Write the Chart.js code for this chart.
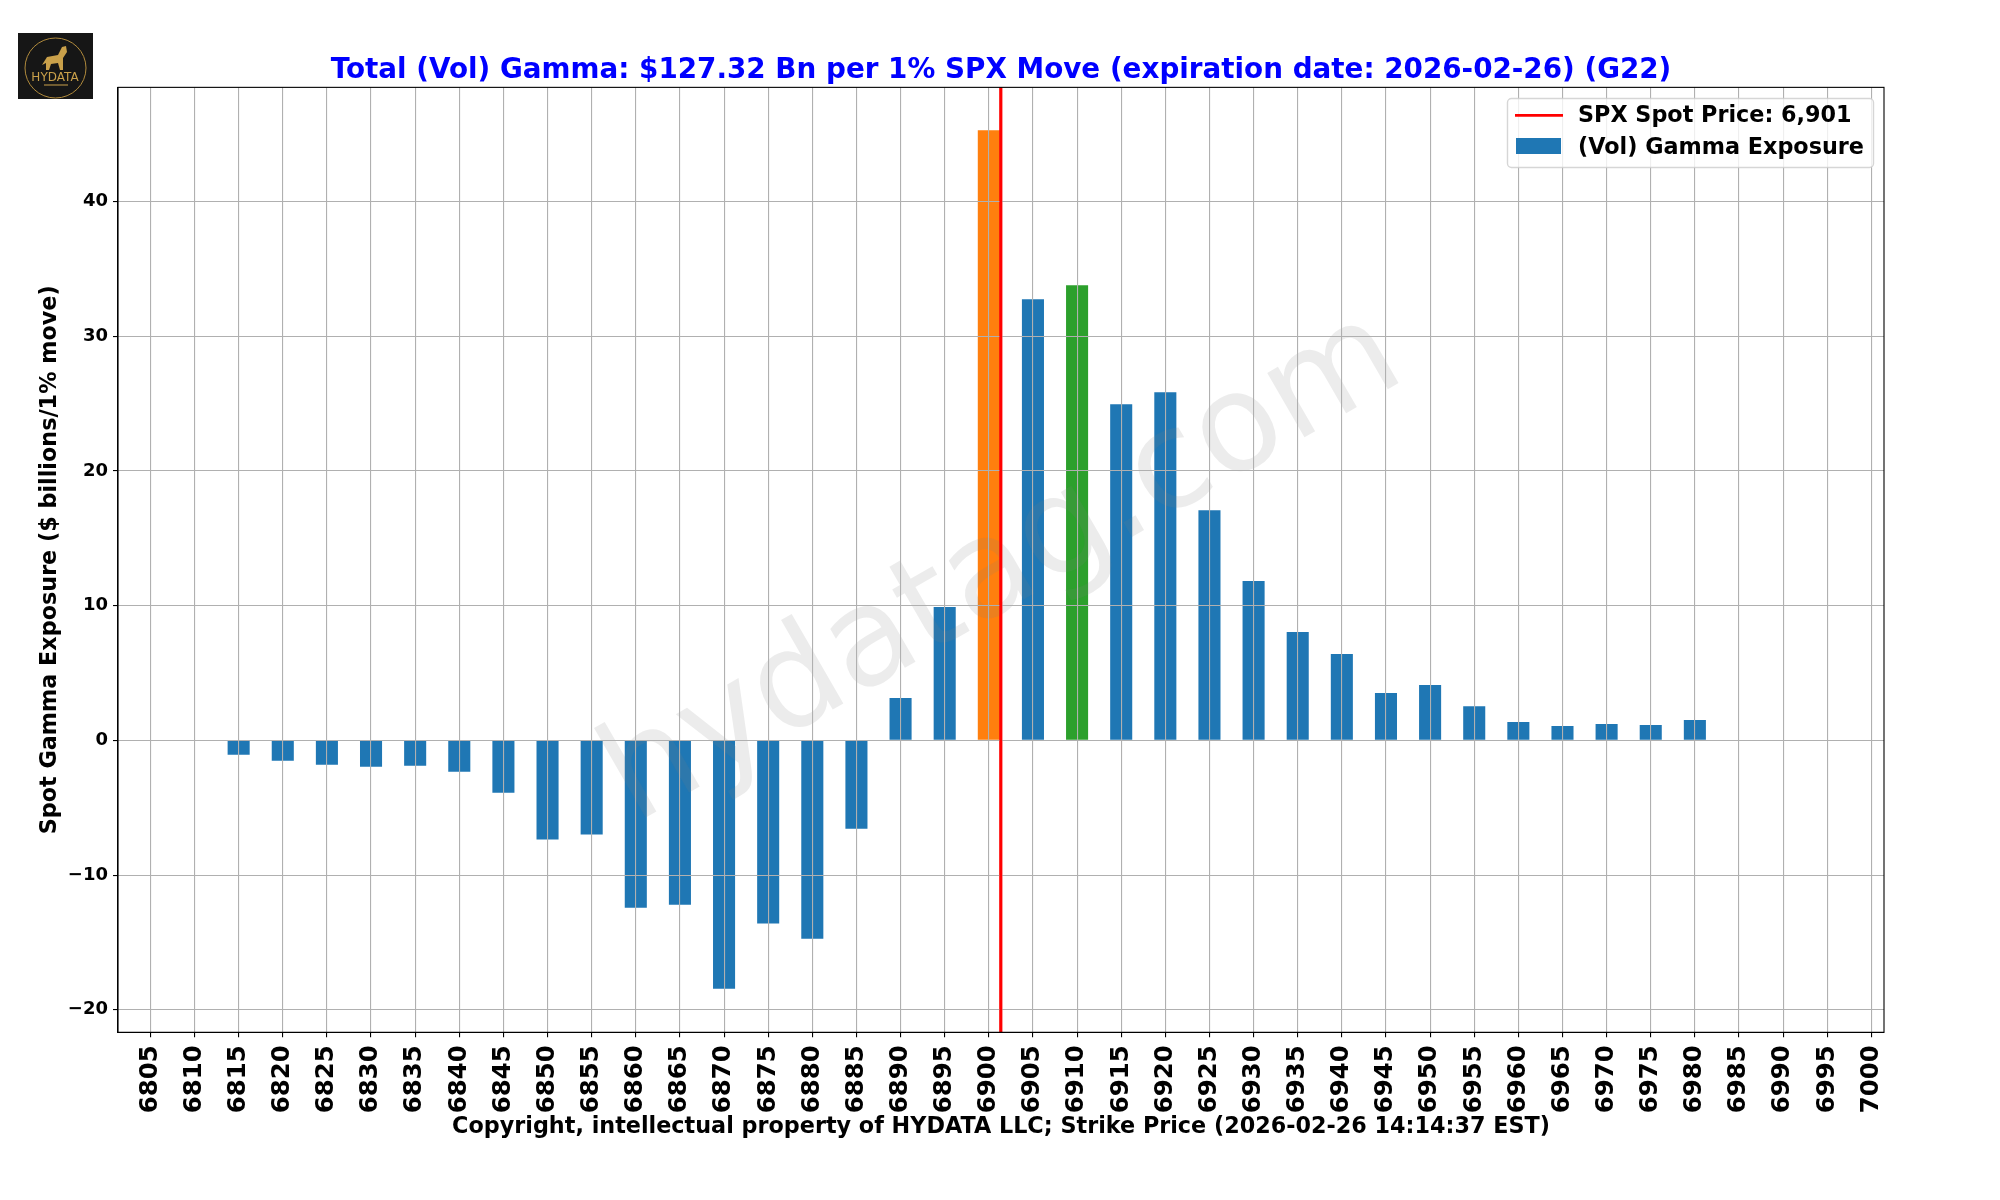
<!DOCTYPE html>
<html>
<head>
<meta charset="utf-8">
<title>Total (Vol) Gamma</title>
<script src="https://cdn.jsdelivr.net/npm/chart.js@4/dist/chart.umd.min.js"></script>
<style>
body { margin: 0; background: #fff; }
canvas { display: block; }
</style>
</head>
<body>
<canvas id="gamma" width="2000" height="1200"></canvas>
<script>
const strikes = [6805,6810,6815,6820,6825,6830,6835,6840,6845,6850,6855,6860,6865,6870,6875,6880,6885,6890,6895,6900,
                 6905,6910,6915,6920,6925,6930,6935,6940,6945,6950,6955,6960,6965,6970,6975,6980,6985,6990,6995,7000];
const gammaValues = [null,null,-1.06,-1.51,-1.81,-1.95,-1.88,-2.32,-3.88,-7.35,-6.98,-12.42,-12.20,-18.43,-13.60,-14.72,-6.56,3.14,9.90,45.29,
                     32.75,33.79,24.96,25.85,17.09,11.83,8.04,6.41,3.51,4.11,2.54,1.36,1.06,1.21,1.14,1.51,null,null,null,null];
const yTicks = [-20,-10,0,10,20,30,40];
const spotPrice = 6901.36;
const spotLabel = 'SPX Spot Price: 6,901';
const gammaLabel = '(Vol) Gamma Exposure';
const orangeStrike = 6900;
const greenStrike = 6910;
const xRange = [6801.33, 7001.43];
const yRange = [-21.67, 48.48];

const fontName = "'DejaVu Sans'";
Chart.defaults.font.family = fontName;
Chart.defaults.color = '#000';

function barColor(strike) {
    if (strike === orangeStrike) return '#ff7f0e';
    if (strike === greenStrike) return '#2ca02c';
    return '#1f77b4';
}

// watermark sits over the bars but under the grid
const watermark = {
    id: 'watermark',
    afterDatasetsDraw(chart) {
        const c = chart.ctx;
        c.save();
        c.translate(1004, 570);
        c.rotate(-30 * Math.PI / 180);
        c.font = '136px ' + fontName;
        c.fillStyle = 'rgba(128,128,128,0.15)';
        c.textAlign = 'center';
        c.textBaseline = 'middle';
        c.fillText('hydatag.com', 0, 0);
        c.restore();
    }
};

function drawLogo(c) {
    c.save();
    c.fillStyle = '#161616';
    c.fillRect(18, 33, 75, 66);
    c.strokeStyle = '#b08a3c';
    c.lineWidth = 1;
    c.beginPath();
    c.rect(18, 33, 75, 66);
    c.clip();
    c.beginPath();
    c.ellipse(55.5, 68, 30.5, 30, 0, 0, Math.PI * 2);
    c.stroke();
    c.fillStyle = '#c9a04a';
    c.beginPath();
    c.moveTo(42, 65); c.lineTo(47, 57); c.lineTo(58, 55); c.lineTo(62, 47); c.lineTo(66, 46);
    c.lineTo(67, 52); c.lineTo(63, 58); c.lineTo(63, 70); c.lineTo(60, 70); c.lineTo(58, 63);
    c.lineTo(51, 64); c.lineTo(49, 70); c.lineTo(46, 70); c.lineTo(46, 63);
    c.closePath();
    c.fill();
    c.font = '12px ' + fontName;
    c.textAlign = 'center';
    c.textBaseline = 'middle';
    c.fillText('HYDATA', 55, 78);
    c.fillStyle = 'rgba(201,160,74,0.5)';
    c.fillRect(44, 84, 24, 2);
    c.restore();
}

const chrome = {
    id: 'chrome',
    // title is centred on the whole figure, not on the padded box
    afterLayout(chart) {
        chart.titleBlock.left = 0;
        chart.titleBlock.right = chart.width + 2;
    },
    afterDraw(chart) {
        const c = chart.ctx;
        const a = chart.chartArea;

        // red line goes back over the grid
        chart.getDatasetMeta(0).controller.draw();

        c.save();
        c.strokeStyle = '#000';
        c.lineWidth = 1.1;
        c.strokeRect(a.left, a.top, a.right - a.left, a.bottom - a.top);

        // legend
        c.fillStyle = 'rgba(255,255,255,0.8)';
        c.strokeStyle = 'rgba(204,204,204,0.8)';
        c.lineWidth = 1.4;
        c.beginPath();
        c.roundRect(1507.5, 98.5, 366, 69, 4);
        c.fill();
        c.stroke();
        c.strokeStyle = '#ff0000';
        c.lineWidth = 2.8;
        c.beginPath();
        c.moveTo(1515, 115.3);
        c.lineTo(1563, 115.3);
        c.stroke();
        c.fillStyle = '#1f77b4';
        c.fillRect(1516, 138, 45, 16);
        c.fillStyle = '#000';
        c.font = 'bold 22.3px ' + fontName;
        c.textBaseline = 'middle';
        c.fillText(chart.data.datasets[0].label, 1578, 116.5);
        c.fillText(chart.data.datasets[1].label, 1578, 148.5);
        c.restore();

        drawLogo(c);
    }
};

new Chart(document.getElementById('gamma').getContext('2d'), {
    type: 'bar',
    data: {
        datasets: [
            {
                type: 'line',
                label: spotLabel,
                data: [{x: spotPrice, y: yRange[0]}, {x: spotPrice, y: yRange[1]}],
                borderColor: '#ff0000',
                borderWidth: 2.8,
                pointRadius: 0,
                order: 0
            },
            {
                label: gammaLabel,
                data: strikes.map((s, i) => ({x: s, y: gammaValues[i]})),
                backgroundColor: strikes.map(barColor),
                barPercentage: 0.5,
                categoryPercentage: 1,
                order: 1
            }
        ]
    },
    options: {
        responsive: false,
        devicePixelRatio: 1,
        animation: false,
        layout: { padding: { right: 116 } },
        plugins: {
            legend: { display: false },
            tooltip: { enabled: false },
            title: {
                display: true,
                text: 'Total (Vol) Gamma: $127.32 Bn per 1% SPX Move (expiration date: 2026-02-26) (G22)',
                color: '#0000ff',
                font: { size: 27.8, weight: 'bold', lineHeight: 1.2 },
                padding: { top: 54, bottom: 0 }
            }
        },
        scales: {
            x: {
                type: 'linear',
                min: xRange[0],
                max: xRange[1],
                offset: false,
                afterBuildTicks(scale) { scale.ticks = strikes.map(v => ({value: v})); },
                afterFit(scale) { scale.height = 167.7; },
                grid: { color: '#b0b0b0', lineWidth: 1.1, z: 1, offset: false, tickColor: '#000', tickLength: 5 },
                border: { color: '#000', width: 1.1, z: 2 },
                ticks: {
                    autoSkip: false, minRotation: 90, maxRotation: 90, padding: 8,
                    font: { size: 24.4, weight: 'bold' },
                    callback: v => String(v)
                },
                title: {
                    display: true,
                    text: 'Copyright, intellectual property of HYDATA LLC; Strike Price (2026-02-26 14:14:37 EST)',
                    font: { size: 22.3, weight: 'bold', lineHeight: 1.2 },
                    padding: { top: 0, bottom: 59.7 }
                }
            },
            y: {
                min: yRange[0],
                max: yRange[1],
                afterBuildTicks(scale) { scale.ticks = yTicks.map(v => ({value: v})); },
                afterFit(scale) { scale.width = 118; },
                grid: { color: '#b0b0b0', lineWidth: 1.1, z: 1, tickColor: '#000', tickLength: 5 },
                border: { color: '#000', width: 1.1, z: 2 },
                ticks: {
                    padding: 5,
                    font: { size: 18, weight: 'bold' },
                    callback: v => String(v).replace('-', '\u2212')
                },
                title: {
                    display: true,
                    text: 'Spot Gamma Exposure ($ billions/1% move)',
                    font: { size: 22.3, weight: 'bold', lineHeight: 1.2 },
                    padding: { top: 36.5, bottom: 0 }
                }
            }
        }
    },
    plugins: [watermark, chrome]
});
</script>
</body>
</html>
